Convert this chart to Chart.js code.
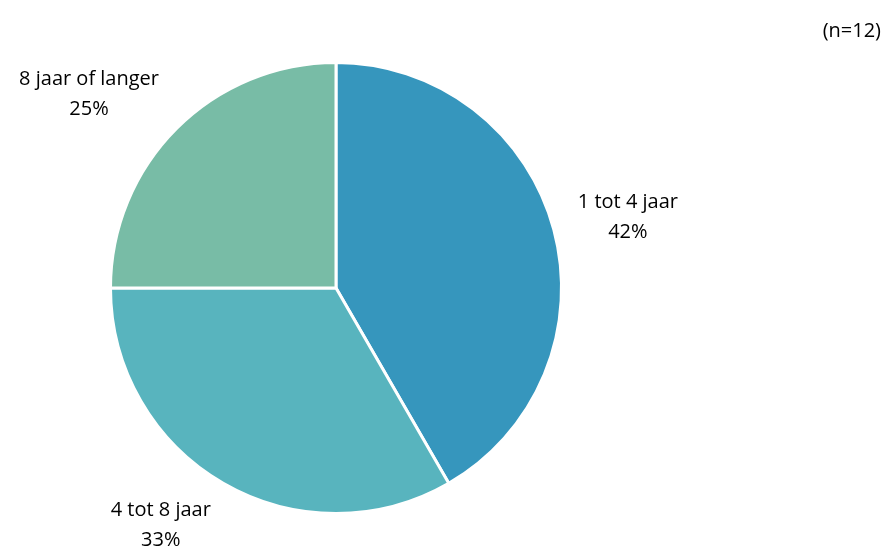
<!DOCTYPE html>
<html>
<head>
<meta charset="utf-8">
<script src="https://cdn.jsdelivr.net/npm/chart.js@4/dist/chart.umd.min.js"></script>
<style>
  html, body { margin: 0; padding: 0; background: #fff; }
  canvas { display: block; }
</style>
</head>
<body>
<canvas id="pie" width="886" height="551"></canvas>
<script>
// Data (n=12)
const categories = ['1 tot 4 jaar', '4 tot 8 jaar', '8 jaar of langer'];
const counts = [5, 4, 3];
const percentLabels = ['42%', '33%', '25%'];
const sliceColors = ['#3696bd', '#58b4be', '#78bca6'];
const sampleNote = '(n=12)';

const FONT = '"Open Sans", "Lato", sans-serif';

// Labels outside each slice, anchored at its mid-angle
const outsideLabels = {
  id: 'outsideLabels',
  afterDraw(chart) {
    const ctx = chart.ctx;
    const meta = chart.getDatasetMeta(0);
    ctx.save();
    ctx.font = '20px ' + FONT;
    ctx.fillStyle = '#000';
    ctx.textAlign = 'center';
    ctx.textBaseline = 'middle';
    const lineH = 30;
    meta.data.forEach((arc, i) => {
      const { x, y, startAngle, endAngle, outerRadius } = arc.getProps(['x', 'y', 'startAngle', 'endAngle', 'outerRadius'], true);
      const mid = (startAngle + endAngle) / 2;
      const dx = Math.cos(mid), dy = Math.sin(mid);
      const px = x + dx * outerRadius * 1.11;
      const py = y + dy * outerRadius * 1.11;
      const lines = [categories[i], percentLabels[i]];
      const w = Math.max(...lines.map(l => ctx.measureText(l).width));
      const h = lineH * lines.length;
      const cx = px + Math.sign(dx) * w / 2;
      const cy = py + dy * h * 0.4;
      lines.forEach((l, k) => {
        ctx.fillText(l, cx, cy - h / 2 + lineH * (k + 0.5));
      });
    });
    // sample size note, top right
    ctx.textAlign = 'right';
    ctx.fillText(sampleNote, chart.width - 5, 31);
    ctx.restore();
  }
};

new Chart(document.getElementById('pie'), {
  type: 'pie',
  data: {
    labels: categories,
    datasets: [{
      data: counts,
      backgroundColor: sliceColors,
      borderColor: '#ffffff',
      borderWidth: 3
    }]
  },
  options: {
    responsive: false,
    animation: false,
    layout: { padding: { left: 109, right: 323, top: 61, bottom: 36 } },
    plugins: {
      legend: { display: false },
      tooltip: { enabled: false }
    }
  },
  plugins: [outsideLabels]
});
</script>
</body>
</html>
